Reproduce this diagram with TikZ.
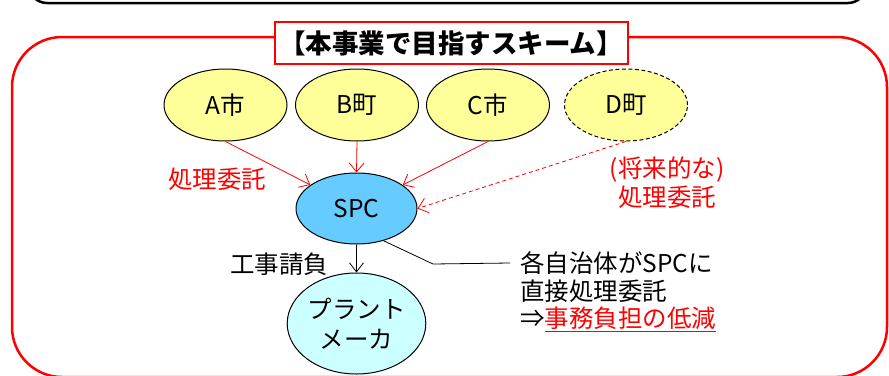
\documentclass[tikz,border=0pt]{standalone}
\usepackage{fontspec}
\setmainfont{Noto Sans CJK JP}
\usetikzlibrary{shapes.geometric,arrows.meta}
\definecolor{yel}{HTML}{FFFF99}
\definecolor{spcblue}{HTML}{66CCFF}
\definecolor{plantcol}{HTML}{CCFFFF}
\begin{document}
\begin{tikzpicture}[x=1pt,y=-1pt,
  txt/.style={font=\fontsize{24.5}{29}\selectfont},
  city/.style={ellipse, draw, line width=1pt, fill=yel, minimum width=123pt, minimum height=72pt, inner sep=0pt, txt},
  redarr/.style={draw=red, line width=0.8pt, -{Straight Barb[length=9pt,width=15pt]}},
  blkarr/.style={draw=black, line width=0.8pt, -{Straight Barb[length=9pt,width=14pt]}},
  reddash/.style={dash pattern=on 4pt off 3pt}
]
\useasboundingbox (0,0) rectangle (889,375);
% top black frame (cut off)
\draw[line width=2.5pt, rounded corners=18pt] (29,-40) rectangle (866,3);
% red frame
\draw[red, line width=2.5pt, rounded corners=50pt] (12,37) rectangle (887,377);
% title
\node[draw=red, line width=2pt, fill=white, minimum width=353pt, minimum height=42pt, inner sep=0pt,
      font=\fontsize{26.5}{30}\selectfont\bfseries] (title) at (451,43) {【本事業で目指すスキーム】};
% cities
\node[city] (A) at (225.5,105) {A市};
\node[city] (B) at (357,105) {B町};
\node[city] (C) at (488,105) {C市};
\node[city, dash pattern=on 4pt off 2.5pt] (D) at (626,105) {D町};
% SPC and plant
\node[ellipse, draw, line width=1pt, fill=spcblue, minimum width=121pt, minimum height=71pt, inner sep=0pt, txt] (spc) at (356.5,208.5) {SPC};
\node[ellipse, draw, line width=1pt, fill=plantcol, minimum width=121pt, minimum height=101pt, inner sep=0pt, align=center,
      font=\fontsize{24.5}{30}\selectfont] (plant) at (356.5,323.5) {プラント\\メーカ};
% arrows
\draw[redarr] (A.south) -- (spc);
\draw[redarr] (B.south) -- (spc.north);
\draw[redarr] (C.south) -- (spc);
\draw[redarr, reddash] (D.south) -- (spc.east);
\draw[blkarr] (spc.south) -- (plant.north);
% labels
\node[txt, text=red] (l1) at (217,179) {処理委託};
\node[txt, text=red, align=center] (l2) at (667,182.5) {(将来的な)\\処理委託};
\node[txt] (kouji) at (279,264) {工事請負};
% callout
\node[txt, anchor=west, inner sep=0pt] (c1) at (520,263) {各自治体がSPCに};
\node[txt, anchor=west, inner sep=0pt] (c2) at (520,291) {直接処理委託};
\node[txt, anchor=west, inner sep=0pt] (c3) at (520,319) {⇒\textcolor{red}{\underline{事務負担の低減}}};
\draw[line width=0.8pt] (spc.-50) -- (433,264) -- ([xshift=-10pt]c1.west);
\end{tikzpicture}
\end{document}
